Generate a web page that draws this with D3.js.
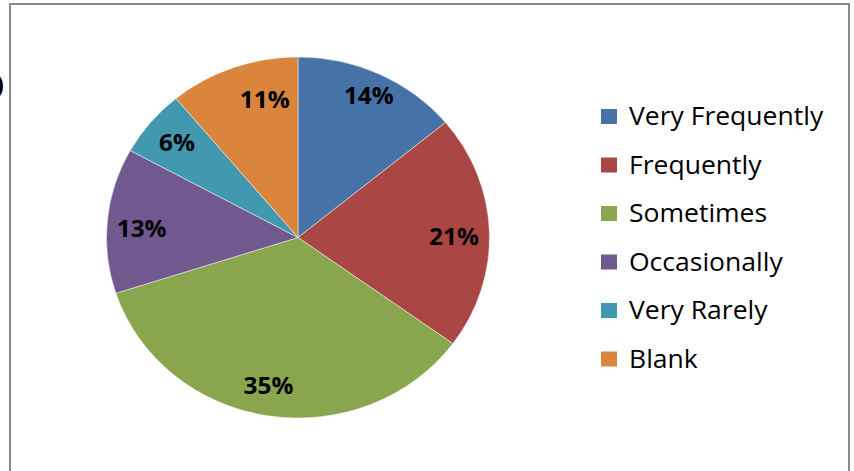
<!DOCTYPE html>
<html>
<head>
<meta charset="utf-8">
<script src="https://cdn.jsdelivr.net/npm/d3@7/dist/d3.min.js"></script>
<style>
  html, body { margin: 0; padding: 0; background: #fff; }
  svg { display: block; }
</style>
</head>
<body>
<svg id="chart" width="854" height="471"></svg>
<script>
// Response categories and their shares (percent)
const categories = ["Very Frequently", "Frequently", "Sometimes", "Occasionally", "Very Rarely", "Blank"];
const shares = [14, 21, 35, 13, 6, 11];
const colors = ["#4572A7", "#AA4643", "#89A54E", "#71588F", "#4198AF", "#DB843D"];

const svg = d3.select("#chart");

// chart frame (bottom edge runs past the visible area)
svg.append("rect")
  .attr("x", 10).attr("y", 4)
  .attr("width", 839).attr("height", 500)
  .attr("fill", "#fff")
  .attr("stroke", "#8a8a8a")
  .attr("stroke-width", 2);

// fragment of neighbouring text at the left edge
svg.append("text")
  .attr("x", 4).attr("y", 93)
  .attr("text-anchor", "end")
  .attr("font-family", "Open Sans, sans-serif")
  .attr("font-weight", "bold")
  .attr("font-size", 24)
  .attr("fill", "#000")
  .text(")");

// pie geometry: slightly wider than tall
const cx = 298, cy = 237.5, ry = 180.5, rx = 191.5;
const sx = rx / ry;

const data = categories.map((c, i) => ({ name: c, value: shares[i], color: colors[i] }));
const pie = d3.pie().value(d => d.value).sort(null);
const arcs = pie(data);
const arc = d3.arc().innerRadius(0).outerRadius(ry);

const g = svg.append("g")
  .attr("transform", `translate(${cx},${cy}) scale(${sx},1)`);

g.selectAll("path.slice")
  .data(arcs)
  .enter().append("path")
  .attr("class", "slice")
  .attr("d", arc)
  .attr("fill", d => d.data.color)
  .attr("stroke", "#ffffff")
  .attr("stroke-opacity", 0.6)
  .attr("stroke-width", 0.8)
  .attr("vector-effect", "non-scaling-stroke");

// percentage labels inside the slices
const labelR = 0.82;
const labelNudge = {
  "Very Frequently": [4, -8],
  "Frequently": [-1, 4],
  "Sometimes": [-5, 2],
  "Occasionally": [0, 5],
  "Blank": [20, 1]
};
svg.selectAll("text.pct")
  .data(arcs)
  .enter().append("text")
  .attr("class", "pct")
  .attr("transform", d => {
    const a = (d.startAngle + d.endAngle) / 2;
    const n = labelNudge[d.data.name] || [0, 0];
    const x = cx + labelR * rx * Math.sin(a) + n[0];
    const y = cy - labelR * ry * Math.cos(a) + n[1];
    return `translate(${x},${y}) scale(${sx},1)`;
  })
  .attr("text-anchor", "middle")
  .attr("dy", "0.36em")
  .attr("font-family", "Open Sans, sans-serif")
  .attr("font-weight", "bold")
  .attr("font-size", 23)
  .attr("fill", "#000")
  .text(d => d.data.value + "%");

// legend
const legY = d3.scalePoint().domain(categories).range([116.5, 359]);
const leg = svg.selectAll("g.leg")
  .data(data)
  .enter().append("g")
  .attr("class", "leg")
  .attr("transform", d => `translate(601,${legY(d.name)})`);

leg.append("rect")
  .attr("x", 0).attr("y", -7.5)
  .attr("width", 16).attr("height", 15)
  .attr("fill", d => d.color);

leg.append("text")
  .attr("transform", `translate(28,8.5) scale(${sx},1)`)
  .attr("font-family", "Open Sans, sans-serif")
  .attr("font-size", 25)
  .attr("fill", "#000")
  .text(d => d.name);
</script>
</body>
</html>
